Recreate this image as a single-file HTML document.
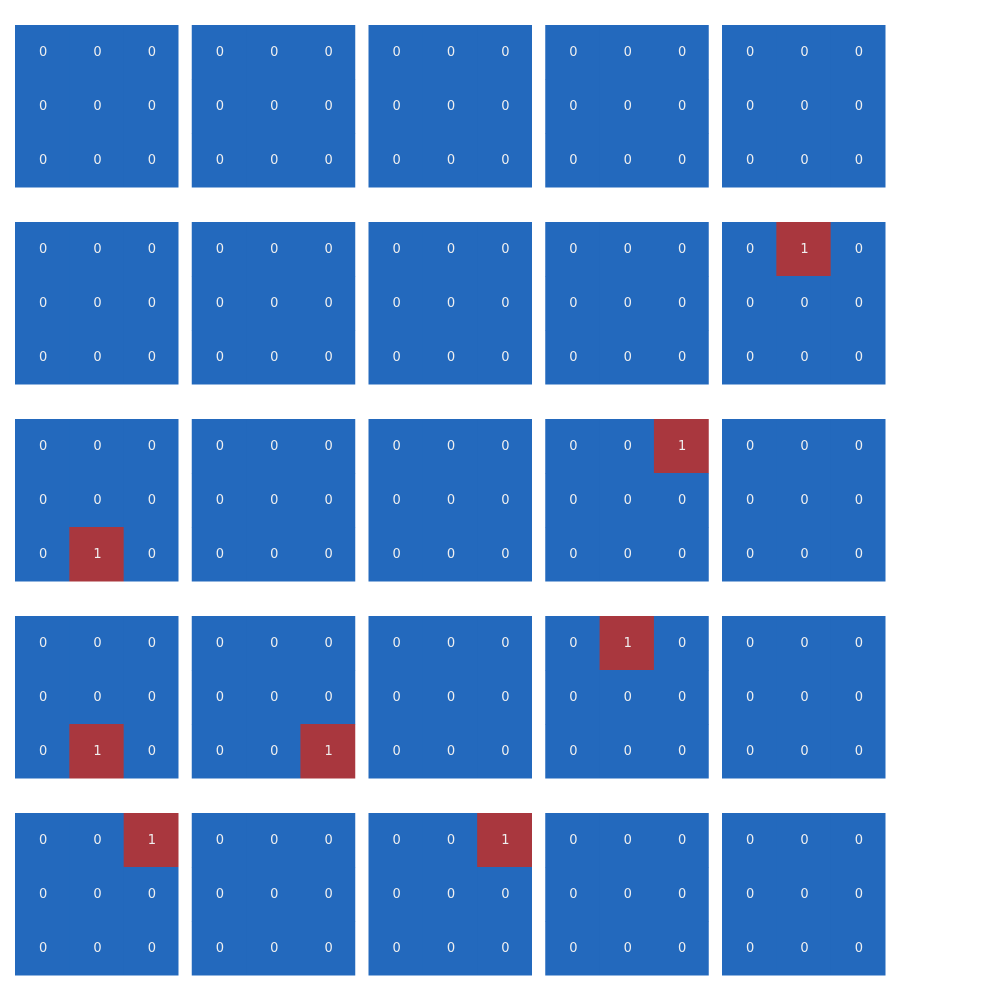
<!DOCTYPE html>
<html><head><meta charset="utf-8"><style>
html,body{margin:0;padding:0;background:#fff;width:1000px;height:1000px;overflow:hidden}
svg text{font-family:"DejaVu Sans","Liberation Sans",sans-serif;font-size:13px;fill:#f0f0f0}
</style></head><body>
<svg id="chart" width="1000" height="1000" xmlns="http://www.w3.org/2000/svg"></svg>
<script>
const panelRows = [0,1,2,3,4];
const panelCols = [0,1,2,3,4];
const cellRows = [0,1,2];
const cellCols = [0,1,2];
// ones: [panelRow, panelCol, cellRow, cellCol]
const onesPanelRow = [1,2,2,3,3,3,4,4];
const onesPanelCol = [4,0,3,0,1,3,0,2];
const onesCellRow  = [0,2,0,2,2,0,0,0];
const onesCellCol  = [1,1,2,1,2,1,2,2];

const svg = document.getElementById('chart');
const NS = 'http://www.w3.org/2000/svg';
const panelX = c => 15 + c * 176.75;
const panelY = r => 25 + r * 197;
const cellW = 163/3, cellH = 162/3;
function valueAt(pr, pc, cr, cc){
  for (let i=0;i<onesPanelRow.length;i++){
    if (onesPanelRow[i]===pr && onesPanelCol[i]===pc && onesCellRow[i]===cr && onesCellCol[i]===cc) return 1;
  }
  return 0;
}
panelRows.forEach(pr => panelCols.forEach(pc => {
  const g = document.createElementNS(NS,'g');
  
  
  svg.appendChild(g);
  cellRows.forEach(cr => cellCols.forEach(cc => {
    const v = valueAt(pr,pc,cr,cc);
    const x = panelX(pc) + cc*cellW, y = panelY(pr) + cr*cellH;
    const r = document.createElementNS(NS,'rect');
    r.setAttribute('x', x); r.setAttribute('y', y);
    r.setAttribute('width', cellW+0.5); r.setAttribute('height', cellH+0.5);
    r.setAttribute('fill', v ? '#a9373e' : '#2369bd');
    
    
    g.appendChild(r);
    const t = document.createElementNS(NS,'text');
    t.setAttribute('x', x + cellW/2 + 1); t.setAttribute('y', y + cellH/2 + 4);
    t.setAttribute('text-anchor', 'middle');
    t.textContent = v;
    
    
    g.appendChild(t);
  }));
}));
</script>
</body></html>
